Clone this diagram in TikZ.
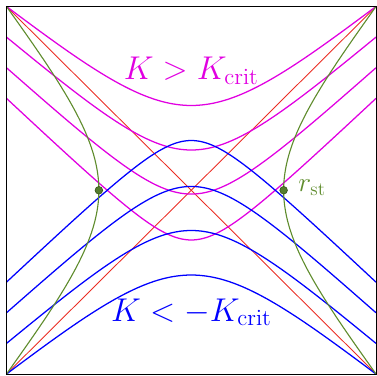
\documentclass[tikz,border=0pt]{standalone}
\usepackage{tikz}
\definecolor{stgreen}{RGB}{95,140,45}
\definecolor{dotfill}{RGB}{85,125,45}
\definecolor{dotline}{RGB}{55,85,25}
\definecolor{kmag}{RGB}{225,0,225}
\definecolor{kblue}{RGB}{0,0,255}
\definecolor{hred}{RGB}{235,45,35}
\tikzset{
  boxline/.style={line width=0.5pt, black},
  horizon/.style={line width=0.55pt, hred},
  kpos/.style={line width=0.8pt, kmag},
  kneg/.style={line width=0.8pt, kblue},
  stretched/.style={line width=0.7pt, stgreen},
  stdot/.style={circle, fill=dotfill, draw=dotline, line width=0.4pt, inner sep=0pt, minimum size=4.8pt},
  biglabel/.style={font=\fontsize{19.7}{24}\selectfont, inner sep=0pt},
}
\begin{document}
\begin{tikzpicture}[x=0.63pt, y=0.63pt]
\useasboundingbox (0,0) rectangle (377,375);
\begin{scope}[shift={(6.5,1)}, xscale=369.5/180, yscale=367.5/180]
  \coordinate (BL) at (0,0);
  \coordinate (BR) at (180,0);
  \coordinate (TR) at (180,180);
  \coordinate (TL) at (0,180);
  % horizons
  \draw[horizon] (BL) -- (TR);
  \draw[horizon] (TL) -- (BR);
  % K > K_crit slices
  \foreach \tone/\kk in {0/1.3356, -15/1.2164, -30/1.134, -45/1.0685}{
    \draw[kpos] plot[domain=0:180, samples=181, smooth] (\x, {90+\tone+acos(sin(\x)/\kk)});
  }
  % K < -K_crit slices
  \foreach \tone/\kk in {0/1.3356, -15/1.2164, -30/1.134, -45/1.0685}{
    \draw[kneg] plot[domain=0:180, samples=181, smooth] (\x, {90-\tone-acos(sin(\x)/\kk)});
  }
  % stretched horizons
  \draw[stretched] plot[domain=-90:90, samples=121, smooth] ({asin(cos(\x)/sqrt(2))}, {\x+90});
  \draw[stretched] plot[domain=-90:90, samples=121, smooth] ({180-asin(cos(\x)/sqrt(2))}, {\x+90});
  \node[stdot] (dl) at (45,90) {};
  \node[stdot] (dr) at (135,90) {};
  % frame
  \draw[boxline] (BL) -- (BR) -- (TR) -- (TL) -- cycle;
\end{scope}
\node[biglabel, anchor=base, text=kmag] (kp) at (191.3,295.5) {$K > K_{\mathrm{crit}}$};
\node[biglabel, anchor=base, text=kblue] (kn) at (191.5,54) {$K < -K_{\mathrm{crit}}$};
\node[anchor=base west, text=stgreen, font=\LARGE, inner sep=0pt] (rst) at (298,183.5) {$r_{\mathrm{st}}$};
\end{tikzpicture}
\end{document}
